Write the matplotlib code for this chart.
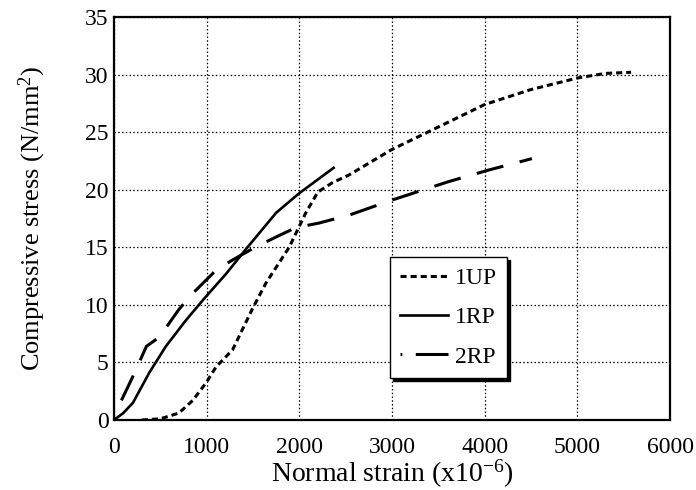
import matplotlib
matplotlib.use("Agg")
import matplotlib.pyplot as plt
from matplotlib.lines import Line2D

plt.rcParams['font.family'] = ['Liberation Serif', 'DejaVu Serif']
plt.rcParams['mathtext.fontset'] = 'custom'
plt.rcParams['mathtext.rm'] = 'Liberation Serif'
plt.rcParams['mathtext.it'] = 'Liberation Serif:italic'

# 1UP (dotted)
strain_1up = [300, 500, 700, 850, 1000, 1100, 1280, 1490, 1640, 1890, 2070, 2200, 2355,
              2540, 3000, 3360, 4000, 4500, 5000, 5300, 5580]
stress_1up = [0, 0.1, 0.6, 1.7, 3.3, 4.6, 6.1, 9.6, 11.9, 15.0, 18.0, 19.8, 20.6,
              21.3, 23.5, 24.9, 27.4, 28.7, 29.7, 30.1, 30.2]

# 1RP (solid)
strain_1rp = [0, 100, 205, 380, 560, 780, 990, 1210, 1420, 1750, 2000, 2370]
stress_1rp = [0, 0.6, 1.5, 4.1, 6.4, 8.7, 10.7, 12.7, 14.8, 18.0, 19.7, 21.9]

# 2RP (long dash)
strain_2rp = [80, 205, 350, 490, 700, 850, 1100, 1280, 1500, 1750, 1960, 2210,
              2540, 3000, 3610, 4040, 4510]
stress_2rp = [1.7, 3.8, 6.4, 7.2, 9.6, 11.0, 13.0, 13.9, 14.9, 15.9, 16.7, 17.1,
              17.8, 19.1, 20.7, 21.7, 22.7]

labels = ['1UP', '1RP', '2RP']

fig = plt.figure(figsize=(6.96, 4.9), dpi=100)
ax = fig.add_axes([0.1638, 0.1429, 0.7989, 0.8224])

ax.plot(strain_1up, stress_1up, color='black', lw=2.2, dashes=(2.0, 1.3))
ax.plot(strain_1rp, stress_1rp, color='black', lw=1.9)
ax.plot(strain_2rp, stress_2rp, color='black', lw=2.2, dashes=(9, 5.5))

ax.set_xlim(0, 6000)
ax.set_ylim(0, 35)
ax.set_xticks(range(0, 6001, 1000))
ax.set_yticks(range(0, 36, 5))
ax.grid(True, color='black', linestyle=(0, (1.2, 1.8)), linewidth=0.9)
ax.tick_params(length=0, labelsize=17)
ax.tick_params(axis='x', pad=12)
ax.tick_params(axis='y', pad=4)
for s in ax.spines.values():
    s.set_linewidth(1.6)

ax.set_xlabel('Normal strain (x10$^{-6}$)', fontsize=20)
ax.set_ylabel('Compressive stress (N/mm$^{2}$)', fontsize=19)
ax.xaxis.set_label_coords(0.5, -0.093)
ax.yaxis.set_label_coords(-0.119, 0.5)

# legend handles (2RP drawn as dot + long dash like the original key)
handles = [
    Line2D([], [], color='black', lw=2.2, dashes=(2.0, 1.3)),
    Line2D([], [], color='black', lw=1.9),
    Line2D([], [], color='black', lw=2.2, dashes=(0.6, 4.4, 11, 10)),
]
leg = ax.legend(handles, labels, loc='upper left', bbox_to_anchor=(0.496, 0.4045),
                borderaxespad=0, fontsize=17, fancybox=False,
                shadow={'color': 'black', 'alpha': 1},
                edgecolor='black', framealpha=1, handlelength=2.0, handletextpad=0.3,
                labelspacing=0.75, borderpad=0.45)
leg.get_frame().set_linewidth(1.0)

fig.savefig('out.png', dpi=100)
